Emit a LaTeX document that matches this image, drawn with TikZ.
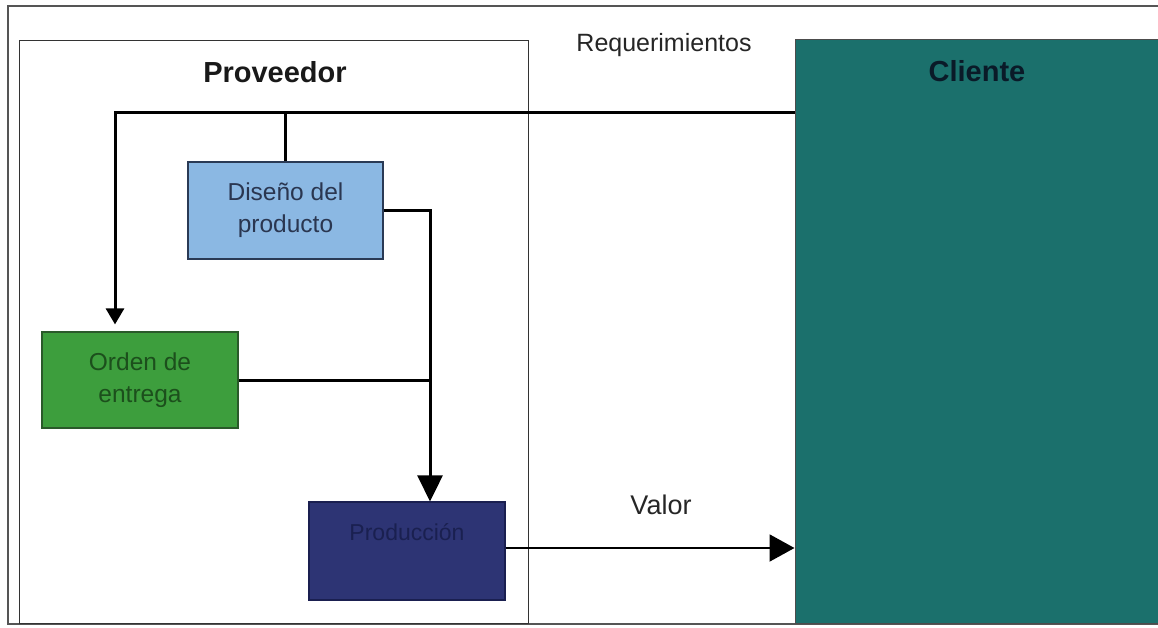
\documentclass[tikz,border=0pt]{standalone}
\usepackage{fontspec}
\setmainfont{Liberation Sans}
\usetikzlibrary{arrows.meta,calc}
\definecolor{frame}{HTML}{555555}
\definecolor{disfill}{HTML}{8BB8E3}
\definecolor{disline}{HTML}{2A3A55}
\definecolor{distext}{HTML}{2A3650}
\definecolor{ordfill}{HTML}{3D9E3D}
\definecolor{ordline}{HTML}{2A5A2A}
\definecolor{ordtext}{HTML}{1C4F1C}
\definecolor{prodfill}{HTML}{2D3474}
\definecolor{prodline}{HTML}{1A1F50}
\definecolor{prodtext}{HTML}{1A2050}
\definecolor{clifill}{HTML}{1B706C}
\definecolor{clitext}{HTML}{0A1A28}
\tikzset{
  procbox/.style={draw, line width=1.2pt, minimum width=195pt, minimum height=97pt, inner sep=0pt, font=\fontsize{24.5}{32}\selectfont, align=center},
  flow/.style={line width=3pt, draw=black},
  bigtip/.style={-{Triangle[width=25pt,length=26pt]}},
  title/.style={font=\bfseries\fontsize{29}{32}\selectfont}
}
\begin{document}
\begin{tikzpicture}[x=1pt,y=-1pt]
\useasboundingbox (0,0) rectangle (1158,628);
\fill[white] (0,0) rectangle (1158,628);
% outer frame
\draw[frame, line width=1.5pt] (8,6) rectangle (1165,624);
% Proveedor container
\node[draw=black!80, line width=1pt, minimum width=509pt, minimum height=582pt, inner sep=0pt] (prov) at (273.5,332) {};
\node[title, text=black!90] (provt) at (275,72) {Proveedor};
% Cliente
\node[fill=clifill, draw=black!70, line width=1pt, minimum width=370pt, minimum height=583pt, inner sep=0pt] (cli) at (980,331.5) {};
\node[title, text=clitext] (clit) at (977,71) {Cliente};
% boxes
\node[procbox, fill=disfill, draw=disline, text=distext] (dis) at (285.5,210.5) {Diseño del\\producto};
\node[procbox, fill=ordfill, draw=ordline, text=ordtext, minimum width=196pt, minimum height=96pt] (ord) at (140,380) {Orden de\\entrega};
\node[procbox, fill=prodfill, draw=prodline, minimum width=196pt, minimum height=98pt] (prod) at (407,551) {};
\node[font=\fontsize{23}{26}\selectfont, text=prodtext] (prodt) at (407,532) {Producción};
% labels
\node[font=\fontsize{25}{28}\selectfont, text=black!85] (req) at (664,45) {Requerimientos};
\node[font=\fontsize{27}{30}\selectfont, text=black!85] (val) at (661,505) {Valor};
% connectors
\coordinate (reqin) at (cli.west |- 0,113);
\coordinate (jdis) at (dis.north |- reqin);
\coordinate (ordin) at ($(ord.north)+(-25,-7)$);
\draw[flow, -{Triangle[width=18pt,length=16pt]}] (reqin) -| (ordin);
\draw[flow] (jdis) -- (dis.north);
\coordinate (prodin) at ($(prod.north)+(23,0)$);
\coordinate (jdisr) at (prodin |- dis.east);
\draw[flow, bigtip] (dis.east) -- (jdisr) -- (prodin);
\coordinate (jord) at (prodin |- ord.east);
\draw[flow] (ord.east) -- (jord);
\draw[line width=2pt, -{Triangle[width=27pt,length=25pt]}] (prod.east |- 0,548) -- (cli.west |- 0,548);
\end{tikzpicture}
\end{document}
